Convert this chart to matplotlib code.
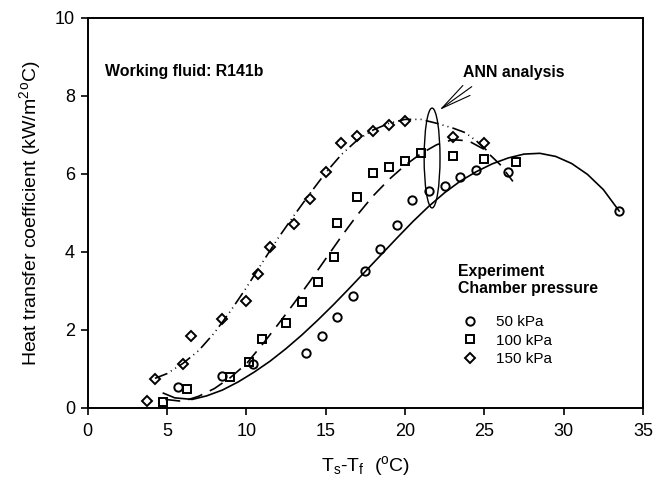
import matplotlib
matplotlib.use('Agg')
import matplotlib.pyplot as plt
from matplotlib.patches import Ellipse
from matplotlib.lines import Line2D

# ── Data ──────────────────────────────────────────────────────────────────────

# experiment, 50 kPa
x50 = [5.7, 8.45, 10.45, 13.75, 14.75, 15.7, 16.7, 17.5, 18.45, 19.5,
       20.45, 21.5, 22.5, 23.5, 24.5, 26.5, 33.5]
y50 = [0.53, 0.82, 1.13, 1.40, 1.85, 2.34, 2.87, 3.50, 4.08, 4.69,
       5.33, 5.56, 5.70, 5.91, 6.10, 6.04, 5.05]

# experiment, 100 kPa
x100 = [4.75, 6.25, 9.0, 10.2, 11.0, 12.5, 13.5, 14.5, 15.5, 15.75,
        17.0, 18.0, 19.0, 20.0, 21.0, 23.0, 25.0, 27.0]
y100 = [0.15, 0.48, 0.79, 1.17, 1.76, 2.19, 2.73, 3.24, 3.88, 4.75,
        5.42, 6.03, 6.19, 6.34, 6.55, 6.46, 6.38, 6.30]

# experiment, 150 kPa
x150 = [3.75, 4.25, 6.0, 6.5, 8.5, 10.0, 10.75, 11.5, 13.0, 14.0,
        15.0, 16.0, 17.0, 18.0, 19.0, 20.0, 23.0, 25.0]
y150 = [0.18, 0.74, 1.13, 1.85, 2.27, 2.74, 3.43, 4.12, 4.72, 5.36,
        6.06, 6.80, 6.97, 7.10, 7.26, 7.37, 6.96, 6.80]

# ANN curves
ann50_x = [4.78, 5.5, 6.6, 7.5, 8.5, 9.5, 10.5, 11.5, 12.5, 13.5,
           14.5, 15.5, 16.5, 17.5, 18.5, 19.5, 20.5, 21.5, 22.5, 23.5,
           24.5, 25.5, 26.5, 27.5, 28.5, 29.5, 30.5, 31.5, 32.5, 33.5]
ann50_y = [0.38, 0.26, 0.22, 0.31, 0.46, 0.67, 0.92, 1.20, 1.52, 1.87,
           2.25, 2.65, 3.07, 3.50, 3.93, 4.36, 4.78, 5.17, 5.52, 5.82,
           6.06, 6.26, 6.41, 6.51, 6.53, 6.45, 6.27, 5.99, 5.60, 5.05]

ann100_x = [4.9, 6.0, 7.0, 8.0, 9.0, 10.0, 11.0, 12.0, 13.0, 14.0,
            15.0, 16.0, 17.0, 18.0, 19.0, 20.0, 21.0, 22.0, 23.0, 24.0,
            25.0, 26.0, 26.8]
ann100_y = [0.22, 0.17, 0.30, 0.50, 0.78, 1.13, 1.62, 2.14, 2.68, 3.24,
            3.82, 4.40, 4.95, 5.44, 5.86, 6.22, 6.52, 6.75, 6.88, 6.85,
            6.63, 6.24, 5.81]

ann150_x = [4.25, 5.0, 6.0, 7.0, 8.0, 9.0, 10.0, 11.0, 12.0, 13.0,
            14.0, 15.0, 16.0, 17.0, 18.0, 19.0, 20.0, 21.0, 22.0, 23.0,
            23.8, 24.5, 25.25]
ann150_y = [0.76, 0.88, 1.14, 1.47, 1.93, 2.48, 3.08, 3.72, 4.35, 4.93,
            5.49, 6.03, 6.50, 6.87, 7.13, 7.30, 7.40, 7.40, 7.30, 7.18,
            7.06, 6.85, 6.57]

labels = ['50 kPa', '100 kPa', '150 kPa']
xticks = [0, 5, 10, 15, 20, 25, 30, 35]
yticks = [0, 2, 4, 6, 8, 10]

# ── Style ─────────────────────────────────────────────────────────────────────

plt.rcParams.update({
    'font.family': ['Liberation Sans', 'DejaVu Sans'],
    'font.size': 11,
    'mathtext.fontset': 'custom',
    'mathtext.rm': 'Liberation Sans',
    'mathtext.it': 'Liberation Sans:italic',
    'axes.linewidth': 1.4,
})

fig = plt.figure(figsize=(6.62, 4.86), dpi=100)
ax = fig.add_axes([0.1322, 0.1605, 0.8391, 0.8025])

mk = dict(linestyle='none', markerfacecolor='none', markeredgecolor='black',
          markeredgewidth=1.4, color='black')
ax.plot(x50, y50, marker='o', markersize=6, zorder=2, **mk)
ax.plot(x100, y100, marker='s', markersize=5.3, zorder=2, **mk)
ax.plot(x150, y150, marker='D', markersize=5, zorder=2, **mk)

ax.plot(ann50_x, ann50_y, color='black', lw=1.2, zorder=3)
ax.plot(ann100_x, ann100_y, color='black', lw=1.2, linestyle=(0, (9, 5)), zorder=3)
ax.plot(ann150_x, ann150_y, color='black', lw=1.2,
        linestyle=(0, (8, 2.5, 0.6, 2.5, 0.6, 2.5)), zorder=3)

ax.set_xlim(0, 35)
ax.set_ylim(0, 10)
ax.set_xticks(xticks)
ax.set_yticks(yticks)
ax.tick_params(direction='out', length=5, width=1.2, labelsize=13)
ax.tick_params(axis='x', pad=6)
ax.tick_params(axis='y', pad=4)

ax.set_xlabel(r'T$_\mathregular{s}$-T$_\mathregular{f}$  ($^\mathregular{o}$C)', fontsize=14)
ax.xaxis.set_label_coords(0.5, -0.149)
ax.xaxis.label.set_va('center')
ax.set_ylabel(r'Heat transfer coefficient (kW/m$^\mathregular{2}$$^\mathregular{o}$C)', fontsize=14)
ax.yaxis.set_label_coords(-0.1035, 0.5)
ax.yaxis.label.set_va('center')

# annotations
ax.text(1.1, 8.62, 'Working fluid: R141b', fontsize=11.4, fontweight='bold',
        va='center', ha='left')
ax.text(23.66, 8.59, 'ANN analysis', fontsize=11.4, fontweight='bold',
        va='center', ha='left')
ax.add_patch(Ellipse((21.71, 6.41), width=1.0, height=2.56, fill=False,
                     lw=1.0, color='black', zorder=4))
ax.annotate('', xy=(22.17, 7.64), xytext=(24.21, 8.24),
            arrowprops=dict(arrowstyle='->,head_length=2.0,head_width=0.4',
                            lw=0.8, color='black', shrinkA=0, shrinkB=0))

# legend
ax.text(23.34, 3.29, 'Experiment\nChamber pressure', fontsize=11.4,
        fontweight='bold', va='center', ha='left', linespacing=1.15)
handles = [
    Line2D([], [], marker='o', markersize=6, **mk),
    Line2D([], [], marker='s', markersize=5.3, **mk),
    Line2D([], [], marker='D', markersize=5, **mk),
]
ax.legend(handles, labels, loc='upper left', bbox_to_anchor=(0.675, 0.238),
          frameon=False, fontsize=11, handlelength=1.0, handletextpad=1.2,
          labelspacing=0.3, borderaxespad=0, borderpad=0)

fig.savefig('out.png', dpi=100)
